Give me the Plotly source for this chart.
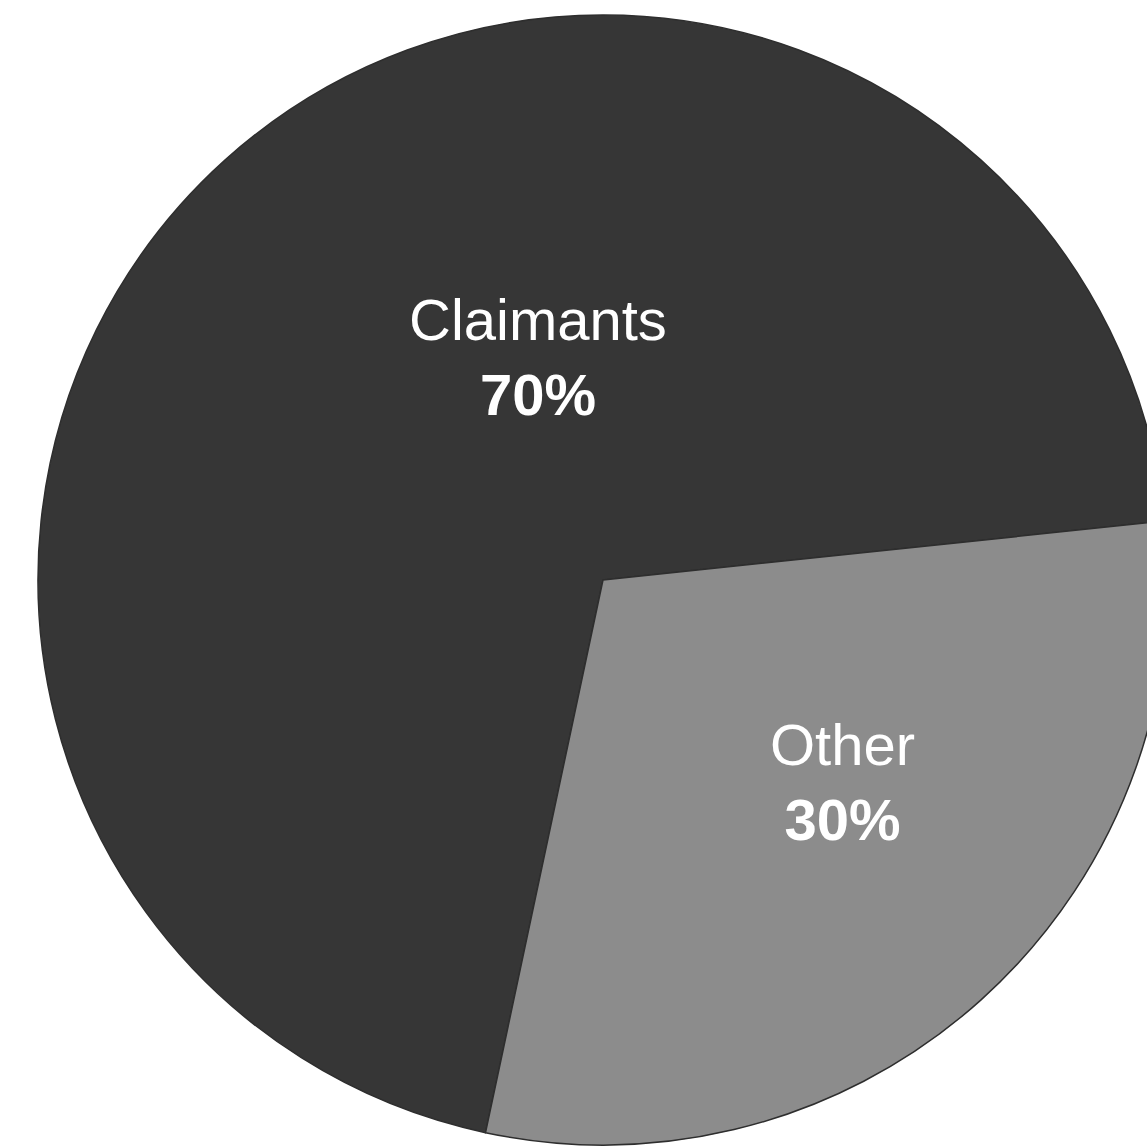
import plotly.graph_objects as go

labels = ["Claimants", "Other"]
values = [70, 30]
slice_colors = ["#363636", "#8c8c8c"]
label_pos = [(538, 357), (842, 782)]  # label centres in pixels (x, y from top)

W, H = 1180, 1160
cx, cy, r = 603, 580, 565

total = sum(values)
fig = go.Figure(go.Pie(
    labels=labels,
    values=values,
    sort=False,
    direction="clockwise",
    rotation=192.0,
    marker=dict(colors=slice_colors, line=dict(color="#2e2e2e", width=1.5)),
    textinfo="none",
    hoverinfo="label+percent",
    showlegend=False,
    domain=dict(x=[(cx - r) / W, (cx + r) / W], y=[1 - (cy + r) / H, 1 - (cy - r) / H]),
))

annotations = []
for lab, val, (px, py) in zip(labels, values, label_pos):
    pct = round(100 * val / total)
    annotations.append(dict(
        x=px / W, y=1 - py / H, xref="paper", yref="paper",
        text=f"{lab}<br><b>{pct}%</b>", showarrow=False,
        xanchor="center", yanchor="middle", align="center",
        font=dict(family="Liberation Sans, Arial, sans-serif", size=58, color="white"),
    ))

fig.update_layout(
    width=W, height=H, autosize=False,
    margin=dict(l=0, r=0, t=0, b=0),
    paper_bgcolor="white", plot_bgcolor="white",
    annotations=annotations,
)

post = ("document.body.style.margin='0';document.body.style.overflow='hidden';"
        "document.documentElement.style.overflow='hidden';")
fig.write_html("out.html", post_script=post)
